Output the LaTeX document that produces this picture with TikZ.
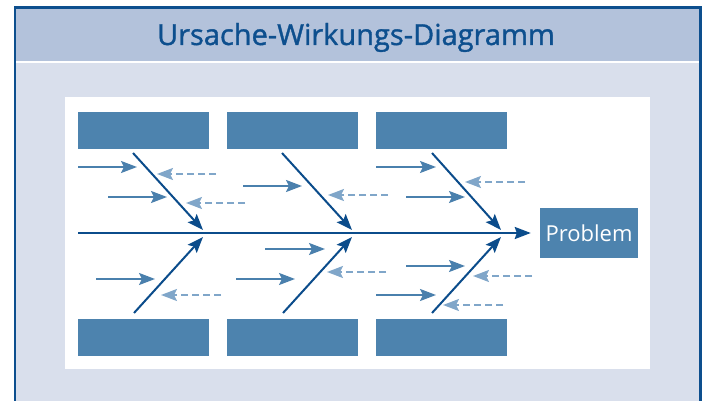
\documentclass[tikz,border=0pt]{standalone}
\usepackage{fontspec}
\setmainfont{Open Sans}
\newfontfamily\titlefont{Open Sans}[FakeBold=1.2]
\usetikzlibrary{arrows.meta}
\definecolor{frameblue}{HTML}{0D4F8E}
\definecolor{headbg}{HTML}{B3C2DB}
\definecolor{bodybg}{HTML}{D9DFEC}
\definecolor{boxblue}{HTML}{4D83AE}
\definecolor{bonecol}{HTML}{0B4C8B}
\definecolor{causecol}{HTML}{4A80AD}
\definecolor{faintcol}{HTML}{80A6C9}
\tikzset{
  catbox/.style={fill=boxblue, draw=none, minimum width=131pt, minimum height=37pt, inner sep=0pt},
  probbox/.style={fill=boxblue, draw=none, minimum width=98pt, minimum height=50pt, inner sep=0pt,
    text=white, font=\fontsize{22}{25}\selectfont},
  bone/.style={draw=bonecol, line width=2pt, -{Stealth[length=16pt,width=12pt,inset=3pt]}},
  spine/.style={draw=bonecol, line width=2pt, -{Stealth[length=16pt,width=12pt,inset=2pt]}},
  cause/.style={draw=causecol, line width=2pt, -{Stealth[length=16pt,width=12pt,inset=3pt]}},
  faint/.style={draw=faintcol, line width=2pt, dash pattern=on 7pt off 4pt, -{Stealth[length=16pt,width=12pt,inset=3pt]}},
}
\begin{document}
\begin{tikzpicture}[x=1pt,y=-1pt]
\clip (0,0) rectangle (705,401);
\fill[white] (0,0) rectangle (705,401);
\fill[bodybg] (15,7.5) rectangle (700.5,410);
\fill[headbg] (15,7.5) rectangle (700.5,61);
\fill[white] (15,61) rectangle (700.5,63);
\draw[frameblue, line width=2.5pt] (15,410) -- (15,7.5) -- (700.5,7.5) -- (700.5,410);
\node[anchor=base, text=frameblue, font=\titlefont\fontsize{29}{32}\selectfont, inner sep=0pt] (title) at (356,45) {Ursache-Wirkungs-Diagramm};
\fill[white] (65,97) rectangle (650,369);
% category boxes
\node[catbox] (t1) at (143.5,130.5) {};
\node[catbox] (t2) at (292.5,130.5) {};
\node[catbox] (t3) at (441.5,130.5) {};
\node[catbox] (u1) at (143.5,337.5) {};
\node[catbox] (u2) at (292.5,337.5) {};
\node[catbox] (u3) at (441.5,337.5) {};
\node[probbox] (prob) at (589,233) {Problem};
% spine
\coordinate (spinestart) at (78,233);
\draw[spine, shorten >=9pt] (spinestart) -- (prob.west);
% bones
\foreach \n/\xa/\ya/\xb/\yb in {ta/133/153/203/230, tb/282/153/352/230, tc/432/153/501/230,
                              ua/134/313/203/237, ub/283/313/352/237, uc/432/313/501/237}{
  \coordinate (\n s) at (\xa,\ya);
  \coordinate (\n e) at (\xb,\yb);
  \draw[bone] (\n s) -- (\n e);
}
% cause arrows
\foreach \n/\xa/\ya/\xb/\yb/\st in {
  a1/78/167/137/167/cause, a2/216/174/157/174/faint, a3/108/197/167/197/cause, a4/245/203/186/203/faint,
  b1/243/186/302/186/cause, b2/388/195/328/195/faint,
  c1/376/167/436/167/cause, c2/525/182/465/182/faint, c3/406/197/465/197/cause,
  d1/96/279/155/279/cause, d2/221/295/161/295/faint,
  e1/265/249/325/249/cause, e2/236/279/295/279/cause, e3/386/272/327/272/faint,
  f1/406/266/465/266/cause, f2/532/276/473/276/faint, f3/376/295/436/295/cause, f4/503/305/443/305/faint}{
  \coordinate (\n s) at (\xa,\ya);
  \coordinate (\n e) at (\xb,\yb);
  \draw[\st] (\n s) -- (\n e);
}
\end{tikzpicture}
\end{document}
